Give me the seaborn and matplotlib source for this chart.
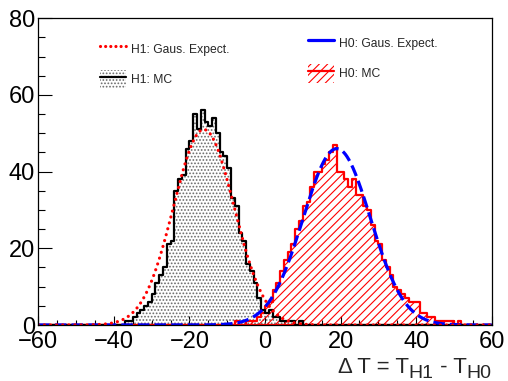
import numpy as np
import pandas as pd
import matplotlib
matplotlib.use("Agg")
import matplotlib.pyplot as plt
from matplotlib.patches import Patch
from matplotlib.lines import Line2D
from matplotlib.legend_handler import HandlerTuple
import seaborn as sns

# ---------------- data ----------------
bin_width = 1.0
h1_first_edge = -38
h1_counts = [0, 1, 1, 2, 3, 4, 5, 6, 8, 11, 13, 15, 21, 22, 35, 38, 39, 46, 48,
             55, 51, 56, 53, 52, 54, 50, 45, 44, 41, 33, 31, 24, 22, 16, 14, 11,
             7, 4, 3, 4, 2, 2, 1, 1, 1, 1, 0, 1, 0]
h0_first_edge = -8
h0_counts = [1, 0, 0, 1, 1, 1, 2, 3, 5, 6, 9, 11, 14, 17, 19, 21, 25, 27, 31,
             32, 36, 40, 40, 42, 43, 45, 47, 40, 40, 38, 36, 38, 34, 34, 31, 30,
             26, 22, 21, 17, 15, 13, 10, 9, 8, 7, 6, 6, 6, 3, 3, 2, 2, 1, 1, 1,
             1, 1, 0, 1, 0]

# Gaussian expectations (amplitude, mean, sigma)
h1_gaus = dict(amp=51.0, mean=-16.2, sigma=8.0)
h0_gaus = dict(amp=46.0, mean=19.0, sigma=8.9)

x_ticks = [-60, -40, -20, 0, 20, 40, 60]
y_ticks = [0, 20, 40, 60, 80]
legend_labels = ["H1: Gaus. Expect.", "H1: MC", "H0: Gaus. Expect.", "H0: MC"]
xlabel_parts = ["\u0394 T = T", "H1", " - T", "H0"]

# ---------------- style ----------------
sns.set_theme(style="ticks")
plt.rcParams["font.family"] = ["Liberation Sans", "DejaVu Sans"]
plt.rcParams["hatch.linewidth"] = 0.8

W, H = 508, 381
fig = plt.figure(figsize=(W / 100, H / 100), dpi=100)
fig.patch.set_facecolor("white")
ax = fig.add_axes([38.3 / W, 1 - 325 / H, (491.7 - 38.3) / W, (325 - 18.3) / H])
ax.set_facecolor("white")


def hist_df(first_edge, counts):
    centers = first_edge + bin_width * (np.arange(len(counts)) + 0.5)
    return pd.DataFrame({"x": centers, "w": counts})


edges_all = [float(e) for e in np.arange(-60, 60 + bin_width, bin_width)]
dot_color = "#6a6a6a"

d1 = hist_df(h1_first_edge, h1_counts)
# stipple fill
sns.histplot(data=d1, x="x", weights="w", bins=edges_all, element="step",
             fill=True, color="black", facecolor="none", edgecolor=dot_color,
             hatch=".....", linewidth=0, alpha=1, ax=ax)
# outline
sns.histplot(data=d1, x="x", weights="w", bins=edges_all, element="step",
             fill=False, color="black", linewidth=1.6, ax=ax)

d0 = hist_df(h0_first_edge, h0_counts)
sns.histplot(data=d0, x="x", weights="w", bins=edges_all, element="step",
             fill=True, color="#ff0000", facecolor="none", edgecolor="#ff0000",
             hatch="////", linewidth=1.6, alpha=1, ax=ax)

xs = np.linspace(-60, 60, 1201)


def gaus(p):
    return p["amp"] * np.exp(-0.5 * ((xs - p["mean"]) / p["sigma"]) ** 2)


sns.lineplot(x=xs, y=gaus(h0_gaus), color="#0000ff", linewidth=2.3, ax=ax)
ax.lines[-1].set_dashes((3.6, 1.6))
sns.lineplot(x=xs, y=gaus(h1_gaus), color="#ff0000", linewidth=2.3, ax=ax)
ax.lines[-1].set_dashes((0.01, 1.9))
ax.lines[-1].set_dash_capstyle("round")

ax.set_xlim(-60, 60)
ax.set_ylim(0, 80)
ax.set_xlabel("")
ax.set_ylabel("")
ax.set_xticks(x_ticks)
ax.set_yticks(y_ticks)
ax.set_xticks(np.arange(-60, 61, 5), minor=True)
ax.set_yticks(np.arange(0, 81, 5), minor=True)
ax.tick_params(axis="both", which="both", direction="in", top=False, right=False,
               labelsize=17, colors="black", width=0.8)
ax.tick_params(axis="x", which="major", length=6.6, pad=4)
ax.tick_params(axis="x", which="minor", length=3.3)
ax.tick_params(axis="y", which="major", length=9.8, pad=2.5)
ax.tick_params(axis="y", which="minor", length=4.9)
for s in ax.spines.values():
    s.set_visible(True)
    s.set_color("black")
    s.set_linewidth(0.9)

# ---------------- legends ----------------
fs_leg = 8.7
h1_gaus_handle = Line2D([], [], color="#ff0000", linewidth=2.3,
                        dashes=(0.01, 1.6), dash_capstyle="round")
h1_mc_handle = (Patch(facecolor="none", edgecolor=dot_color, hatch=".....", linewidth=0),
                Line2D([], [], color="black", linewidth=1.6))
h0_gaus_handle = Line2D([], [], color="#0000ff", linewidth=2.3)
h0_mc_handle = (Patch(facecolor="none", edgecolor="#ff0000", hatch="////", linewidth=0),
                Line2D([], [], color="#ff0000", linewidth=1.6))

common = dict(frameon=False, fontsize=fs_leg, handlelength=2.15, handleheight=2.07,
              handletextpad=0.45, labelspacing=0.92, borderpad=0, borderaxespad=0,
              loc="upper left", bbox_transform=fig.transFigure,
              handler_map={tuple: HandlerTuple(ndivide=1)})
leg1 = ax.legend([h1_gaus_handle, h1_mc_handle], legend_labels[:2],
                 bbox_to_anchor=(100 / W, 1 - 39.5 / H), **common)
ax.add_artist(leg1)
leg2 = ax.legend([h0_gaus_handle, h0_mc_handle], legend_labels[2:],
                 bbox_to_anchor=(308 / W, 1 - 33.5 / H), **common)

# ---------------- x axis title with subscripts ----------------
fig.canvas.draw()
renderer = fig.canvas.get_renderer()
sizes = [16, 14, 16, 14]
baselines = [373, 378.5, 373, 378.5]
widths = []
for s, fs in zip(xlabel_parts, sizes):
    t = fig.text(0, 0, s, fontsize=fs)
    widths.append(t.get_window_extent(renderer).width)
    t.remove()
x_px = 491.7 - sum(widths)
for s, fs, bl, w in zip(xlabel_parts, sizes, baselines, widths):
    fig.text(x_px / W, (H - bl) / H, s, fontsize=fs, ha="left", va="baseline")
    x_px += w

fig.savefig("out.png", dpi=100, facecolor="white")
